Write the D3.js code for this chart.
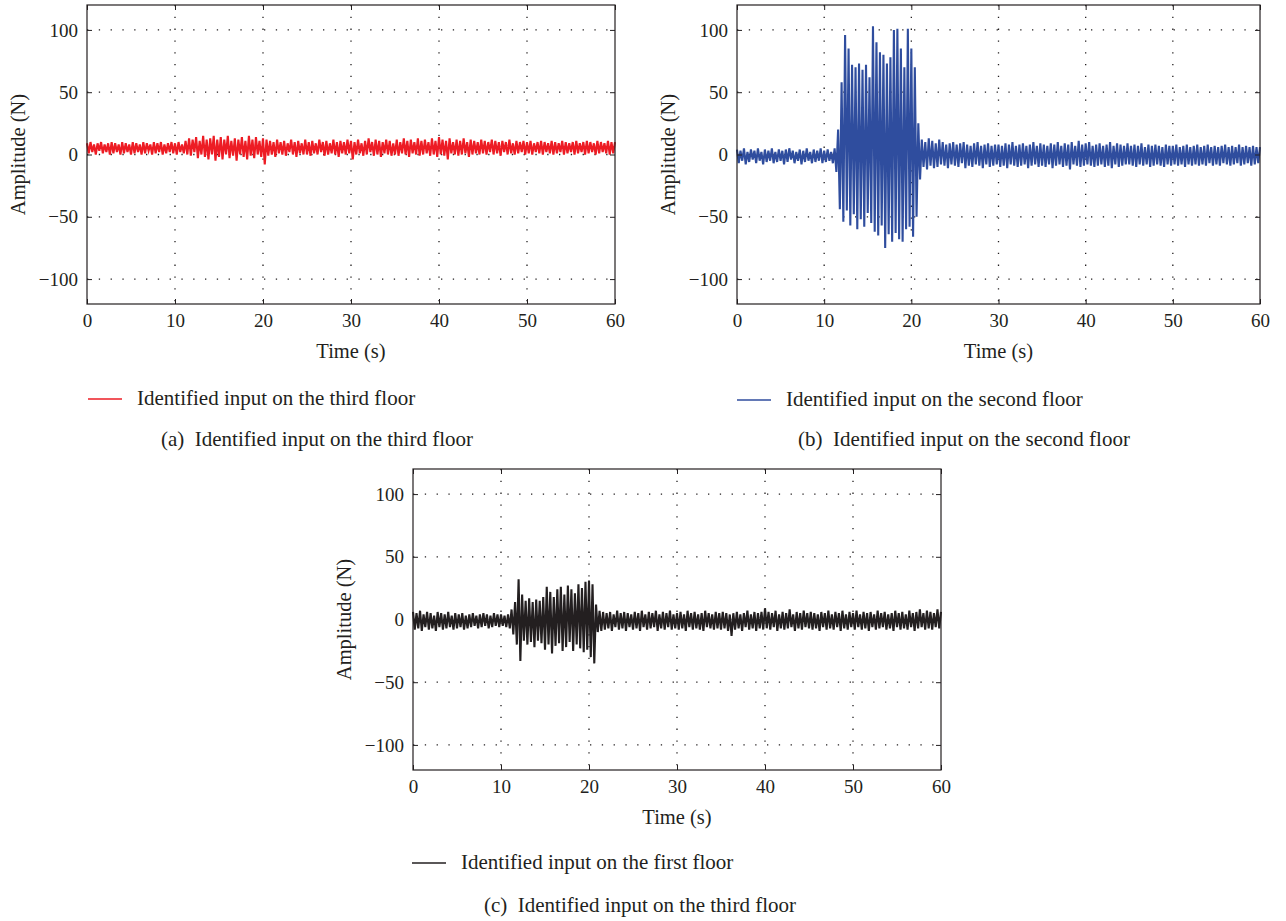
<!DOCTYPE html>
<html>
<head>
<meta charset="utf-8">
<script src="https://cdn.jsdelivr.net/npm/d3@7"></script>
<style>
  body { margin: 0; background: #fff; }
  svg text { font-family: "Liberation Serif", "Times New Roman", serif; fill: #231f20; }
</style>
</head>
<body>
<div class="chart-container"></div>
<script>
// pas d'échantillonnage (s) et axes
const timeStep = 0.2;
const xTicks = [0, 10, 20, 30, 40, 50, 60];
const yTicks = [-100, -50, 0, 50, 100];

// entrée identifiée, 3e étage (N), un point toutes les 0.2 s
const thirdFloorInput = [
  9,1,10,2,8,0,9,3,10,1,8,2,9,0,10,1,9,2,8,0,10,1,9,2,8,
  0,10,1,9,2,8,0,10,1,9,3,8,0,10,1,9,2,10,0,8,1,9,2,10,1,
  9,0,10,2,8,1,11,0,13,-1,12,2,14,-3,11,0,15,-2,12,-4,13,0,15,-5,12,
  -2,14,-4,12,0,15,-3,11,-1,13,-5,12,0,14,-2,11,-4,15,-1,12,-3,14,0,11,-2,
  13,-8,12,-1,11,0,10,-2,12,1,10,0,11,-1,9,2,12,0,10,-2,11,1,9,0,12,
  0,10,-1,11,1,9,0,12,2,10,-1,11,0,9,1,12,0,10,-2,11,1,10,0,12,1,
  11,-4,10,0,12,1,9,-1,11,0,13,2,10,-1,12,0,11,-2,10,1,12,0,11,-1,9,
  0,12,-1,10,1,13,0,11,-2,12,1,10,0,13,-1,11,0,12,1,10,-1,13,0,11,-2,
  14,0,12,-1,11,-4,13,1,10,0,12,-1,11,0,13,1,10,-2,12,0,11,1,10,0,12,
  1,11,0,10,2,12,0,11,1,10,-1,11,2,10,0,12,1,9,0,11,1,10,2,11,0,
  10,1,11,0,9,2,10,1,11,0,10,2,9,1,11,0,10,1,9,2,11,0,10,1,9,
  2,10,0,11,1,9,2,10,0,11,1,10,2,9,0,11,1,10,2,9,1,11,0,10,1,
  10
];

// entrée identifiée, 2e étage (N)
const secondFloorInput = [
  4,-7,3,-5,5,-8,2,-6,4,-4,3,-7,5,-5,2,-8,4,-6,3,-5,5,-7,2,-6,4,
  -5,3,-8,4,-6,5,-4,3,-7,2,-5,4,-8,3,-6,5,-5,2,-7,4,-6,3,-5,5,-7,
  3,-6,4,-5,2,-7,5,-14,20,-44,58,-54,96,-45,85,-57,72,-48,70,-60,73,-52,68,-58,72,
  -47,62,-55,103,-62,90,-65,82,-57,80,-75,73,-64,78,-70,100,-63,101,-68,85,-70,70,-60,101,-58,
  85,-66,70,-50,25,-20,12,-10,10,-12,13,-9,11,-11,9,-10,12,-8,10,-9,8,-11,9,-8,10,
  -9,8,-10,9,-7,10,-11,8,-9,7,-10,9,-8,10,-9,7,-11,8,-8,9,-10,7,-9,8,-8,
  8,-10,7,-9,9,-11,8,-8,10,-9,7,-10,8,-9,9,-8,7,-11,8,-9,10,-8,7,-10,9,
  -9,8,-10,7,-8,9,-11,8,-9,10,-8,7,-10,9,-9,8,-12,10,-8,7,-9,11,-10,8,-9,
  9,-8,10,-9,7,-10,8,-9,9,-8,7,-10,8,-9,10,-11,7,-8,9,-10,8,-9,7,-8,9,
  -8,7,-9,8,-10,7,-8,9,-9,6,-8,8,-10,7,-9,8,-8,7,-9,6,-10,8,-8,7,-9,
  7,-8,8,-9,6,-8,7,-10,8,-8,6,-9,7,-8,8,-9,6,-8,7,-9,8,-7,6,-9,7,
  -8,6,-9,7,-7,8,-8,6,-9,7,-8,6,-7,8,-9,6,-8,7,-7,6,-9,7,-8,6,-7,
  6
];

// entrée identifiée, 1er étage (N)
const firstFloorInput = [
  6,-8,5,-7,7,-9,4,-6,6,-8,5,-7,3,-9,6,-6,5,-8,4,-7,6,-6,3,-8,5,
  -7,4,-6,5,-8,3,-7,4,-6,5,-5,3,-7,4,-6,5,-5,4,-7,3,-6,5,-5,4,-6,
  4,-5,3,-6,4,-7,8,-12,14,-20,32,-33,20,-17,15,-20,17,-18,14,-22,16,-17,15,-19,18,
  -24,26,-20,22,-27,18,-21,24,-19,26,-25,20,-22,27,-18,24,-25,21,-20,28,-23,25,-26,30,-24,
  31,-30,28,-35,12,-10,7,-9,6,-8,5,-7,6,-9,4,-6,7,-8,5,-7,6,-9,5,-6,4,
  -8,6,-7,5,-9,7,-6,4,-8,6,-7,5,-6,7,-9,4,-7,6,-8,5,-6,7,-8,4,-7,
  5,-8,6,-7,4,-9,7,-6,5,-8,6,-7,4,-8,5,-9,7,-6,5,-7,4,-8,6,-7,5,
  -8,6,-7,5,-9,4,-13,5,-8,6,-7,4,-9,5,-6,7,-8,4,-7,6,-9,5,-7,6,-8,
  9,-7,6,-8,5,-6,7,-9,4,-7,6,-8,5,-7,8,-6,4,-9,6,-7,5,-8,7,-6,5,
  -7,6,-8,5,-7,4,-9,6,-6,5,-8,7,-7,4,-8,6,-6,5,-9,7,-7,4,-8,6,-6,
  5,-8,7,-6,4,-8,6,-7,5,-9,6,-6,4,-8,7,-7,5,-6,6,-8,4,-7,5,-9,7,
  -6,5,-8,6,-7,4,-8,7,-6,5,-9,6,-7,8,-6,5,-8,7,-7,6,-8,5,-6,8,-7,
  6
];

const legendLabels = [
  'Identified input on the third floor',
  'Identified input on the second floor',
  'Identified input on the first floor'
];
const captions = [
  '(a)  Identified input on the third floor',
  '(b)  Identified input on the second floor',
  '(c)  Identified input on the third floor'
];

// mise en page des trois sous-figures
const panels = [
  { series: thirdFloorInput, color: '#ed1c24', left: 87, top: 5, width: 528, height: 299,
    legendX: 88, legendY: 399, captionX: 317, captionY: 446 },
  { series: secondFloorInput, color: '#2f4d9e', left: 737, top: 5, width: 523, height: 299,
    legendX: 737, legendY: 400, captionX: 964, captionY: 446 },
  { series: firstFloorInput, color: '#231f20', left: 413, top: 469, width: 528, height: 301,
    legendX: 412, legendY: 863, captionX: 640, captionY: 912 }
];

let svg = d3.select('.chart-container')
    .append('svg')
    .attr('width', 1286)
    .attr('height', 921);

panels.forEach((p, k) => {
    let g = svg.append('g')
        .attr('transform', `translate(${p.left},${p.top})`);

    let xScale = d3.scaleLinear().domain([0, 60]).range([0, p.width]);
    let yScale = d3.scaleLinear().domain([-120, 120]).range([p.height, 0]);

    // grille pointillée
    g.append('g')
        .selectAll('line')
        .data(xTicks.slice(1, -1))
        .enter()
        .append('line')
        .attr('x1', d => xScale(d)).attr('x2', d => xScale(d))
        .attr('y1', 0).attr('y2', p.height)
        .attr('stroke', '#231f20')
        .attr('stroke-width', 1.3)
        .attr('stroke-dasharray', '1.3,10.5');

    g.append('g')
        .selectAll('line')
        .data(yTicks)
        .enter()
        .append('line')
        .attr('x1', 0).attr('x2', p.width)
        .attr('y1', d => yScale(d)).attr('y2', d => yScale(d))
        .attr('stroke', '#231f20')
        .attr('stroke-width', 1.3)
        .attr('stroke-dasharray', '1.3,10.5');

    // signal
    let line = d3.line()
        .x((d, i) => xScale(i * timeStep))
        .y(d => yScale(d));

    g.append('path')
        .datum(p.series)
        .attr('d', line)
        .attr('fill', 'none')
        .attr('stroke', p.color)
        .attr('stroke-width', 2.1)
        .attr('stroke-linejoin', 'miter');

    // axes (graduations vers l'intérieur)
    let styleAxis = a => {
        a.select('.domain').remove();
        a.selectAll('.tick line').attr('stroke', '#231f20');
        a.selectAll('.tick text')
            .attr('font-family', '"Liberation Serif", serif')
            .attr('font-size', 19)
            .attr('fill', '#231f20');
    };

    g.append('g')
        .attr('transform', `translate(0,${p.height})`)
        .call(d3.axisBottom(xScale).tickValues(xTicks).tickSizeInner(-5).tickSizeOuter(0).tickPadding(10))
        .call(styleAxis);

    g.append('g')
        .call(d3.axisTop(xScale).tickValues(xTicks).tickSizeInner(-5).tickSizeOuter(0).tickFormat(''))
        .call(styleAxis);

    g.append('g')
        .call(d3.axisLeft(yScale).tickValues(yTicks).tickSizeInner(-5).tickSizeOuter(0).tickPadding(9)
            .tickFormat(d => d < 0 ? '\u2212' + Math.abs(d) : d))
        .call(styleAxis);

    g.append('g')
        .attr('transform', `translate(${p.width},0)`)
        .call(d3.axisRight(yScale).tickValues(yTicks).tickSizeInner(-5).tickSizeOuter(0).tickFormat(''))
        .call(styleAxis);

    // cadre
    g.append('rect')
        .attr('width', p.width)
        .attr('height', p.height)
        .attr('fill', 'none')
        .attr('stroke', '#231f20')
        .attr('stroke-width', 1.2);

    // labels des axes
    g.append('text')
        .attr('x', p.width / 2)
        .attr('y', p.height + 54)
        .attr('text-anchor', 'middle')
        .attr('font-size', 20.5)
        .text('Time (s)');

    g.append('text')
        .attr('transform', `translate(-62,${p.height / 2}) rotate(-90)`)
        .attr('text-anchor', 'middle')
        .attr('font-size', 20.5)
        .text('Amplitude (N)');

    // légende
    svg.append('line')
        .attr('x1', p.legendX).attr('x2', p.legendX + 34)
        .attr('y1', p.legendY).attr('y2', p.legendY)
        .attr('stroke', p.color)
        .attr('stroke-width', 1.3);

    svg.append('text')
        .attr('x', p.legendX + 49)
        .attr('y', p.legendY + 6)
        .attr('font-size', 21)
        .text(legendLabels[k]);

    // légende de la sous-figure
    svg.append('text')
        .attr('x', p.captionX)
        .attr('y', p.captionY)
        .attr('text-anchor', 'middle')
        .attr('font-size', 21)
        .style('white-space', 'pre')
        .text(captions[k]);
});
</script>
</body>
</html>
